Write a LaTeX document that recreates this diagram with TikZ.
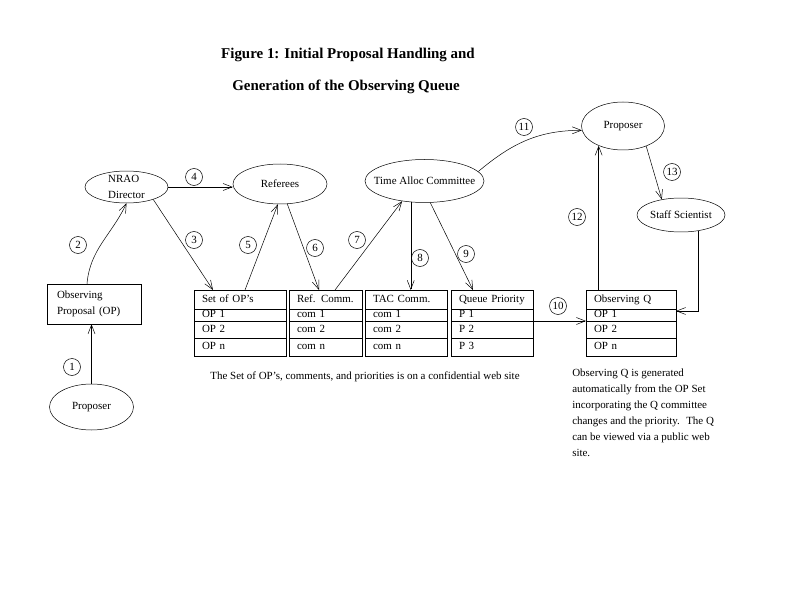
\documentclass[tikz,border=0pt]{standalone}
\usepackage{fontspec}
\setmainfont{Liberation Serif}
\usetikzlibrary{shapes.geometric,arrows.meta}

\begin{document}
\begin{tikzpicture}[x=1bp,y=-1bp,line width=0.5pt,
  every node/.style={font=\fontsize{11}{16}\selectfont},
  party/.style={draw,ellipse,inner xsep=-25bp,inner ysep=-8bp},
  cell/.style={draw,anchor=north west,outer sep=0pt,inner xsep=8bp,inner ysep=0pt,
    text height=7bp,text depth=2bp,align=left},
  num/.style={draw,circle,inner sep=0pt,minimum size=17bp},
  flow/.style={-{Straight Barb[length=9bp,width=7bp]}}]
\useasboundingbox (0,0) rectangle (792,612);

% title
\node[font=\fontsize{15}{18}\selectfont\bfseries] (title1) at (348,55) {Figure 1: Initial Proposal Handling and};
\node[font=\fontsize{15}{18}\selectfont\bfseries] (title2) at (346,87) {Generation of the Observing Queue};

% people and committees
\node[party,minimum width=84bp,minimum height=46bp] (proposerA) at (91.5,407) {Proposer};
\node[draw,minimum height=40bp,inner xsep=10bp,text width=74bp,align=left] (opbox) at (94,304) {Observing\\Proposal (OP)};
\node[party,minimum width=83bp,minimum height=32bp,align=left] (nrao) at (126.5,187) {NRAO\\Director};
\node[party,minimum width=94bp,minimum height=40bp] (referees) at (280,184) {Referees};
\node[party,minimum width=119bp,minimum height=43bp] (tac) at (424.5,181) {Time Alloc Committee};
\node[party,minimum width=83bp,minimum height=48bp] (proposerB) at (623,126) {Proposer};
\node[party,minimum width=88bp,minimum height=34bp] (staff) at (681,215) {Staff Scientist};

% web site tables
\node[cell,text width=76bp,minimum height=19bp] (setH) at (194,290) {Set of OP's};
\node[cell,text width=76bp,minimum height=12bp] (set1) at (setH.south west) {OP 1};
\node[cell,text width=76bp,minimum height=17.5bp] (set2) at (set1.south west) {OP 2};
\node[cell,text width=76bp,minimum height=17.5bp] (setN) at (set2.south west) {OP n};

\node[cell,text width=57bp,minimum height=19bp] (refH) at (289,290) {Ref. Comm.};
\node[cell,text width=57bp,minimum height=12bp] (ref1) at (refH.south west) {com 1};
\node[cell,text width=57bp,minimum height=17.5bp] (ref2) at (ref1.south west) {com 2};
\node[cell,text width=57bp,minimum height=17.5bp] (refN) at (ref2.south west) {com n};

\node[cell,text width=66bp,minimum height=19bp] (tacH) at (365,290) {TAC Comm.};
\node[cell,text width=66bp,minimum height=12bp] (tac1) at (tacH.south west) {com 1};
\node[cell,text width=66bp,minimum height=17.5bp] (tac2) at (tac1.south west) {com 2};
\node[cell,text width=66bp,minimum height=17.5bp] (tacN) at (tac2.south west) {com n};

\node[cell,text width=66bp,minimum height=19bp] (qH) at (451,290) {Queue Priority};
\node[cell,text width=66bp,minimum height=12bp] (q1) at (qH.south west) {P 1};
\node[cell,text width=66bp,minimum height=17.5bp] (q2) at (q1.south west) {P 2};
\node[cell,text width=66bp,minimum height=17.5bp] (q3) at (q2.south west) {P 3};

\node[cell,text width=74bp,minimum height=19bp] (oH) at (586,290) {Observing Q};
\node[cell,text width=74bp,minimum height=12bp] (o1) at (oH.south west) {OP 1};
\node[cell,text width=74bp,minimum height=17.5bp] (o2) at (o1.south west) {OP 2};
\node[cell,text width=74bp,minimum height=17.5bp] (oN) at (o2.south west) {OP n};

% flow of the proposal
\draw[flow] (proposerA.north) -- (proposerA.north |- opbox.south);
\draw[flow] ([xshift=-7bp]opbox.north) to[out=85,in=-115] (nrao.south);
\draw[flow] (nrao.-25) -- ([xshift=19bp]setH.north west);
\draw[flow] (nrao.east) -- (nrao.east -| referees.west);
\draw[flow] ([xshift=51bp]setH.north west) -- (referees.-96);
\draw[flow] (referees.-70) -- ([xshift=30bp]refH.north west);
\draw[flow] ([xshift=46bp]refH.north west) -- (tac.-138);
\draw[flow] (tac.-123) -- (tac.-123 |- tacH.north);
\draw[flow] (tac.-75) -- ([xshift=22bp]qH.north west);
\draw[flow] (q1.south east) -- (o1.south west);
\draw[flow] (tac.10) to[out=40,in=180] (proposerB.186);
\draw[flow] (proposerB.-141 |- oH.north) -- (proposerB.-141);
\draw[flow] (proposerB.-41) -- (staff.141);
\draw[flow] (staff.-43) |- ([yshift=4bp]o1.east);

% step numbers
\node[num] (n1) at (72,367) {1};
\node[num] (n2) at (78,245) {2};
\node[num] (n3) at (194,240) {3};
\node[num] (n4) at (194,177) {4};
\node[num] (n5) at (248,245) {5};
\node[num] (n6) at (315,248) {6};
\node[num] (n7) at (357,240) {7};
\node[num] (n8) at (420,258) {8};
\node[num] (n9) at (466,254) {9};
\node[num] (n10) at (558,306) {10};
\node[num] (n11) at (524,127) {11};
\node[num] (n12) at (577,217) {12};
\node[num] (n13) at (672,172) {13};

% notes
\node (caption) at (365,377) {The Set of OP's, comments, and priorities is on a confidential web site};
\node[anchor=north west,align=left,inner sep=0pt] (note) at (572,369) {Observing Q is generated\\automatically from the OP Set\\incorporating the Q committee\\changes and the priority.~ The Q\\can be viewed via a public web\\site.};
\end{tikzpicture}
\end{document}
